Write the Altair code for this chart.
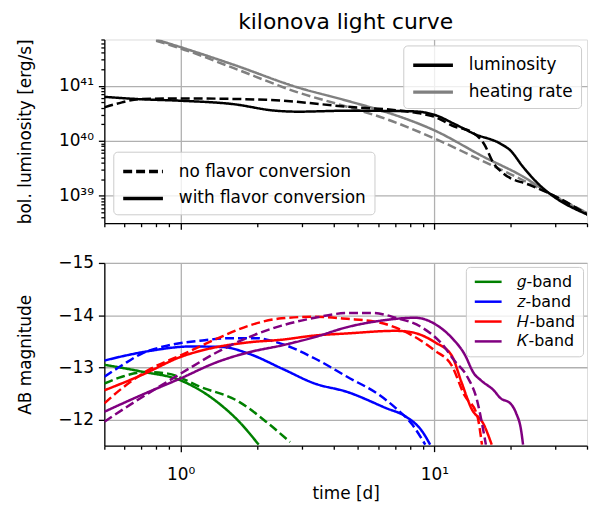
import altair as alt
import pandas as pd

FONT = "DejaVu Sans"

# ---------------- top panel: bolometric luminosity / heating rate ----------------
t_heat = [0.80, 1.0, 1.6, 2.9, 4.53, 6.45, 10.06, 15.69, 22.38, 28.44, 40.2]
heat_with = [6.98e41, 5.07e41, 2.47e41, 9.35e40, 5.36e40, 3.34e40, 1.53e40, 5.07e39, 2.23e39, 1.10e39, 4.79e38]
heat_no = [6.61e41, 4.81e41, 2.15e41, 7.60e40, 4.17e40, 2.50e40, 1.09e40, 4.17e39, 1.91e39, 1.10e39, 4.79e38]

t_lum_no = [0.5, 0.587, 0.683, 1.0, 2.17, 4.53, 8.2, 10.06, 12.0, 13.98, 15.69, 17.15, 18.74, 23.82, 28.44, 40.2]
lum_no = [4.06e40, 5.01e40, 5.74e40, 5.92e40, 5.58e40, 4.17e40, 3.30e40, 2.71e40, 1.82e40, 1.46e40,
          8.83e39, 3.84e39, 2.53e39, 1.56e39, 1.10e39, 4.52e38]

t_lum_with = [0.5, 0.683, 1.0, 1.6, 2.37, 2.9, 4.53, 8.2, 10.06, 12.0, 14.35, 18.24, 19.94, 22.38, 26.02, 28.44, 40.2]
lum_with = [6.32e40, 5.74e40, 5.36e40, 4.67e40, 3.53e40, 3.39e40, 3.53e40, 3.44e40, 2.95e40, 2.03e40,
            1.34e40, 8.83e39, 6.68e39, 3.34e39, 1.56e39, 1.10e39, 4.52e38]

# ---------------- bottom panel: AB magnitudes ----------------
t_g_with = [0.5, 0.70, 1.0, 1.39, 1.70, 2.03]
g_with = [-13.05, -12.92, -12.75, -12.34, -11.96, -11.52]
t_g_no = [0.5, 0.587, 0.72, 0.891, 1.19, 1.70, 2.17, 2.70]
g_no = [-12.69, -12.82, -12.91, -12.88, -12.63, -12.34, -11.96, -11.57]

t_z_with = [0.5, 0.625, 0.766, 1.093, 1.465, 1.86, 2.50, 3.38, 4.53, 6.45, 7.71, 8.97, 9.63]
z_with = [-13.13, -13.24, -13.32, -13.40, -13.39, -13.26, -12.98, -12.69, -12.53, -12.22, -12.06, -11.77, -11.52]
t_z_no = [0.5, 0.587, 0.70, 0.891, 1.19, 1.60, 1.98, 2.50, 3.38, 4.53, 6.07, 7.05, 8.20, 9.21]
z_no = [-12.82, -13.04, -13.26, -13.42, -13.51, -13.56, -13.56, -13.45, -13.17, -12.82, -12.47, -12.22, -11.90, -11.52]

t_H_with = [0.5, 0.70, 1.0, 1.39, 1.86, 2.50, 3.38, 4.53, 7.05, 8.20, 10.06, 11.70, 12.79, 13.98, 15.69, 16.84]
H_with = [-12.56, -12.85, -13.20, -13.39, -13.48, -13.53, -13.61, -13.65, -13.70, -13.67, -13.48, -13.23,
          -12.72, -12.22, -11.90, -11.52]
t_H_no = [0.5, 0.587, 0.766, 1.0, 1.39, 1.86, 2.50, 3.38, 4.53, 6.07, 8.20, 10.06, 11.70, 13.13, 14.74, 15.41]
H_no = [-12.31, -12.60, -12.98, -13.23, -13.55, -13.80, -13.94, -13.97, -13.93, -13.86, -13.61, -13.32,
        -13.04, -12.47, -12.09, -11.52]

t_K_with = [0.5, 0.70, 1.0, 1.39, 1.86, 2.50, 3.38, 4.53, 6.07, 8.43, 10.06, 11.70, 13.13, 14.35, 15.28,
            17.15, 18.24, 19.94, 21.03, 21.98, 22.38]
K_with = [-12.15, -12.47, -12.79, -13.10, -13.29, -13.42, -13.58, -13.77, -13.89, -13.95, -13.83, -13.57,
          -13.26, -12.88, -12.75, -12.56, -12.41, -12.31, -12.12, -11.80, -11.52]
t_K_no = [0.5, 0.659, 1.0, 1.39, 1.86, 2.50, 3.38, 4.53, 5.75, 7.05, 8.97, 10.71, 12.0, 13.49, 14.74, 15.41, 15.97]
K_no = [-11.96, -12.34, -12.88, -13.29, -13.58, -13.80, -13.95, -14.04, -14.04, -13.95, -13.76, -13.45,
        -13.13, -12.82, -12.37, -11.93, -11.52]

quantities = ["luminosity", "heating rate"]
cases = ["no flavor conversion", "with flavor conversion"]
bands = ["\U0001D454-band", "\U0001D467-band", "\U0001D43B-band", "\U0001D43E-band"]

# tick positions / labels
x_ticks = [0.5, 0.6, 0.7, 0.8, 0.9, 1, 2, 3, 4, 5, 6, 7, 8, 9, 10, 20, 30, 40]
y_top_ticks = [float(f"{m}e{e}") for e in (38, 39, 40, 41) for m in range(1, 10)
               if 3.15e38 <= float(f"{m}e{e}") <= 7e41]
y_bot_ticks = [-15, -14, -13, -12]


def rows(ts, vs, **kw):
    return [dict(t=t, v=v, **kw) for t, v in zip(ts, vs)]


top_rows = (rows(t_heat, heat_with, q="heating rate", c=cases[1])
            + rows(t_heat, heat_no, q="heating rate", c=cases[0])
            + rows(t_lum_with, lum_with, q="luminosity", c=cases[1])
            + rows(t_lum_no, lum_no, q="luminosity", c=cases[0]))
df_top = pd.DataFrame(top_rows)

bot_rows = (rows(t_g_with, g_with, b=bands[0], c=cases[1]) + rows(t_g_no, g_no, b=bands[0], c=cases[0])
            + rows(t_z_with, z_with, b=bands[1], c=cases[1]) + rows(t_z_no, z_no, b=bands[1], c=cases[0])
            + rows(t_H_with, H_with, b=bands[2], c=cases[1]) + rows(t_H_no, H_no, b=bands[2], c=cases[0])
            + rows(t_K_with, K_with, b=bands[3], c=cases[1]) + rows(t_K_no, K_no, b=bands[3], c=cases[0]))
df_bot = pd.DataFrame(bot_rows)

X_MAJOR = "datum.value == 1 || datum.value == 10"
YT_MAJOR = "datum.value == 1e39 || datum.value == 1e40 || datum.value == 1e41"


def cond(test, a, b):
    return {"condition": {"test": test, "value": a}, "value": b}


PLOT_W = 486

x_scale = alt.Scale(type="log", domain=[0.5, 40], nice=False)
dash_scale = alt.Scale(domain=cases, range=[[9, 4], [1, 0]])

legend_common = dict(
    title=None, fillColor="rgba(255,255,255,0.8)", strokeColor="#cccccc", cornerRadius=4,
    labelFont=FONT, labelColor="black", labelLimit=400, symbolFillColor="transparent",
)
# wide line handle: 40 px long, 20 px tall row
top_legend = dict(symbolType="M-1,0H3", symbolSize=400, symbolStrokeWidth=3.5, labelOffset=34,
                  labelFontSize=17, rowPadding=7, padding=8, **legend_common)

axis_common = dict(
    labelFont=FONT, labelFontSize=17, labelColor="black", titleFont=FONT, titleFontSize=17,
    titleFontWeight="normal", titleColor="black", tickColor="black", tickWidth=1.3,
    domainColor="black", domainWidth=1.3, gridColor="#b0b0b0", gridWidth=1.3,
    labelOverlap=False, labelFlush=False,
)

top = alt.Chart(df_top).mark_line(clip=True, strokeWidth=2.5, interpolate="monotone").encode(
    x=alt.X("t:Q", scale=x_scale,
            axis=alt.Axis(values=x_ticks, labels=False, title=None,
                          tickSize=cond(X_MAJOR, 6, 3.5), gridOpacity=cond(X_MAJOR, 1, 0), **axis_common)),
    y=alt.Y("v:Q", scale=alt.Scale(type="log", domain=[3.15e38, 7e41], nice=False),
            axis=alt.Axis(values=y_top_ticks, title="bol. luminosity [erg/s]",
                          labelExpr="datum.value == 1e39 ? '10³⁹' : datum.value == 1e40 ? '10⁴⁰' : datum.value == 1e41 ? '10⁴¹' : ''",
                          tickSize=cond(YT_MAJOR, 6, 3.5), gridOpacity=cond(YT_MAJOR, 1, 0),
                          labelPadding=5, minExtent=58, maxExtent=58, titlePadding=12, **axis_common)),
    color=alt.Color("q:N", scale=alt.Scale(domain=quantities, range=["black", "gray"]),
                    legend=alt.Legend(orient="top-right", offset=6, **top_legend)),
    strokeDash=alt.StrokeDash("c:N", scale=dash_scale,
                              legend=alt.Legend(orient="bottom-left", offset=9, symbolStrokeColor="black",
                                                **top_legend)),
    detail="c:N",
).properties(
    width=PLOT_W, height=185,
    title=alt.TitleParams("kilonova light curve", font=FONT, fontSize=22, fontWeight="normal",
                          anchor="middle", frame="group", offset=-3, color="black"),
)

bottom = alt.Chart(df_bot).mark_line(clip=True, strokeWidth=2.5, interpolate="monotone").encode(
    x=alt.X("t:Q", scale=x_scale,
            axis=alt.Axis(values=x_ticks, title="time [d]",
                          labelExpr="datum.value == 1 ? '10⁰' : datum.value == 10 ? '10¹' : ''",
                          tickSize=cond(X_MAJOR, 6, 3.5), gridOpacity=cond(X_MAJOR, 1, 0),
                          labelPadding=15, titlePadding=3, **axis_common)),
    y=alt.Y("v:Q", scale=alt.Scale(domain=[-15, -11.5], reverse=True, nice=False, zero=False),
            axis=alt.Axis(values=y_bot_ticks, title="AB magnitude", labelExpr="'−' + abs(datum.value)",
                          tickSize=6, labelPadding=5, minExtent=58, maxExtent=58, titlePadding=12,
                          **axis_common)),
    color=alt.Color("b:N", scale=alt.Scale(domain=bands, range=["green", "blue", "red", "purple"]),
                    legend=alt.Legend(orient="top-right", offset=4, padding=7, labelFontSize=16,
                                      symbolType="M-1,0H3.5", symbolSize=144, symbolStrokeWidth=2.5,
                                      rowPadding=4, labelOffset=29, **legend_common)),
    strokeDash=alt.StrokeDash("c:N", scale=dash_scale, legend=None),
    detail="c:N",
).properties(width=PLOT_W, height=184)

chart = alt.vconcat(top, bottom, spacing=40, bounds="flush").resolve_scale(
    color="independent", strokeDash="independent", x="independent", y="independent"
).resolve_legend(color="independent", strokeDash="independent").properties(
    padding={"left": 8, "top": 0, "right": 0, "bottom": 0}
).configure_view(stroke="black", strokeWidth=1.3).configure(background="white")

chart.save("out.html", embed_options={"renderer": "svg", "actions": False})
